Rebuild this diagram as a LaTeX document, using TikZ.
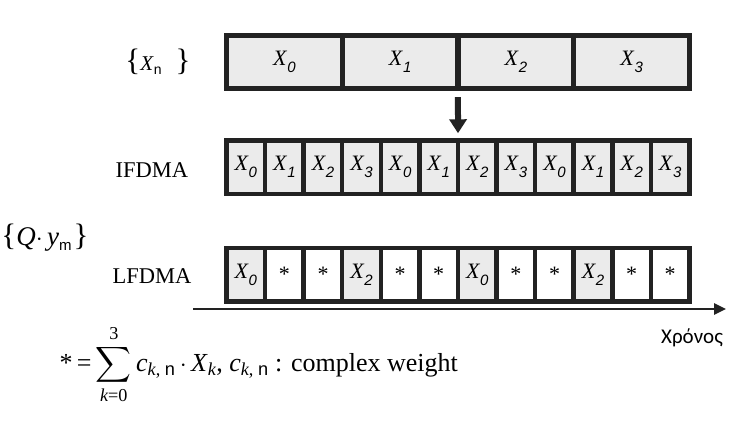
\documentclass[tikz,border=0pt]{standalone}
\usepackage{fontspec}
\usepackage{amsmath}
\setmainfont{Liberation Serif}
\setsansfont{Liberation Sans}
\newfontfamily\grkfont{Carlito}
\usetikzlibrary{arrows.meta}
\definecolor{cellgrey}{HTML}{EBEBEB}
\definecolor{edge}{HTML}{222222}
\newcommand{\xsub}[1]{\textit{X}\raisebox{-0.33em}{\fontsize{15}{15}\selectfont\sffamily\itshape #1}}
\newcommand{\bigbrace}[1]{{\fontsize{31}{31}\selectfont #1}}
\begin{document}
\begin{tikzpicture}[x=1pt, y=-1pt,
  cell/.style={draw=edge, line width=5pt, fill=cellgrey, minimum width=115.75pt, minimum height=53pt, inner sep=0pt, outer sep=0pt, font=\fontsize{22}{22}\selectfont},
  slot/.style={cell, line width=4.5pt, minimum width=38.58pt, minimum height=53.5pt},
  blank/.style={slot, fill=white},
  rowname/.style={font=\fontsize{22.5}{24}\selectfont}]
\useasboundingbox (0,0) rectangle (738,424);
\node[cell] (x0) at (284.4,62){\xsub{0}};
\node[cell] (x1) at (400.1,62){\xsub{1}};
\node[cell] (x2) at (515.9,62){\xsub{2}};
\node[cell] (x3) at (631.6,62){\xsub{3}};
\node[font=\fontsize{21}{21}\selectfont] (xn) at (158,62){\bigbrace{\{}\textit{X}\raisebox{-4pt}{\fontsize{14}{14}\selectfont\sffamily n}\hspace{14pt}\bigbrace{\}}};
\node[slot] (i0) at (245.8,167){\xsub{0}};
\node[slot] (i1) at (284.4,167){\xsub{1}};
\node[slot] (i2) at (323.0,167){\xsub{2}};
\node[slot] (i3) at (361.5,167){\xsub{3}};
\node[slot] (i4) at (400.1,167){\xsub{0}};
\node[slot] (i5) at (438.7,167){\xsub{1}};
\node[slot] (i6) at (477.3,167){\xsub{2}};
\node[slot] (i7) at (515.9,167){\xsub{3}};
\node[slot] (i8) at (554.5,167){\xsub{0}};
\node[slot] (i9) at (593.0,167){\xsub{1}};
\node[slot] (i10) at (631.6,167){\xsub{2}};
\node[slot] (i11) at (670.2,167){\xsub{3}};
\node[rowname] (ifdma) at (152,170){IFDMA};
\draw[edge, line width=6pt, -{Triangle[length=14pt, width=17pt]}] ([yshift=-8.5pt]x1.south east) -- ([yshift=7pt]i6.north west);
\node[font=\fontsize{27}{27}\selectfont] (qy) at (45,238){\bigbrace{\{}\textit{Q}$\cdot$\,\textit{y}\raisebox{-5pt}{\fontsize{15}{15}\selectfont\sffamily m}\hspace{2pt}\bigbrace{\}}};
\node[slot] (l0) at (245.8,274.5){\xsub{0}};
\node[blank] (l1) at (284.4,274.5){*};
\node[blank] (l2) at (323.0,274.5){*};
\node[slot] (l3) at (361.5,274.5){\xsub{2}};
\node[blank] (l4) at (400.1,274.5){*};
\node[blank] (l5) at (438.7,274.5){*};
\node[slot] (l6) at (477.3,274.5){\xsub{0}};
\node[blank] (l7) at (515.9,274.5){*};
\node[blank] (l8) at (554.5,274.5){*};
\node[slot] (l9) at (593.0,274.5){\xsub{2}};
\node[blank] (l10) at (631.6,274.5){*};
\node[blank] (l11) at (670.2,274.5){*};
\node[rowname] (lfdma) at (152,276){LFDMA};
\coordinate (t0) at (193,309);
\coordinate (t1) at (726,309);
\draw[edge, line width=2.5pt, -{Triangle[length=12pt, width=11pt]}] (t0) -- (t1);
\node[font=\grkfont\fontsize{21}{21}\selectfont] (time) at (692,338){Χρόνος};
\node[anchor=base west, font=\fontsize{26}{30}\selectfont] (weight) at (56,371){*\,=\,$\displaystyle\sum_{\text{\itshape k\upshape =0}}^{\text{3}}$\,\textit{c}$_{\text{\itshape k\upshape , \sffamily n}}$\,$\cdot$\,\textit{X}$_{\text{\itshape k}}$, \textit{c}$_{\text{\itshape k\upshape , \sffamily n}}$ : complex weight};
\end{tikzpicture}
\end{document}
